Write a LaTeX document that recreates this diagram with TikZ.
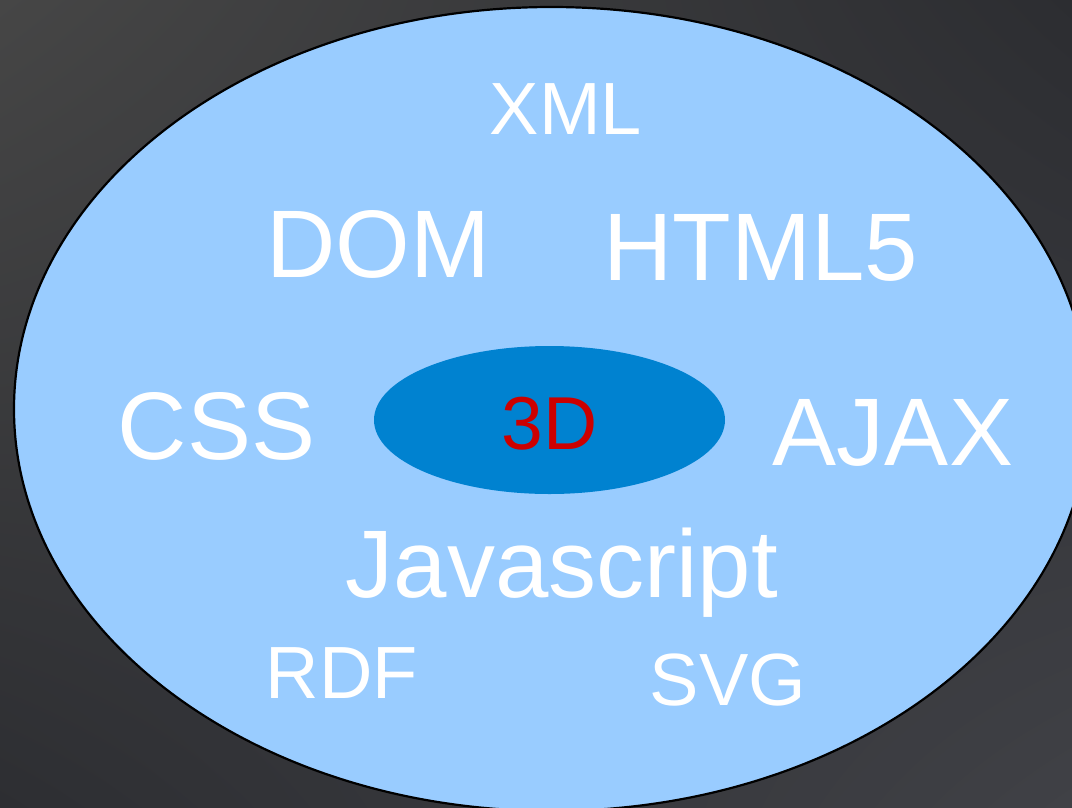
\documentclass[tikz,border=0pt]{standalone}
\usepackage{fontspec}
\setmainfont{Liberation Sans}
\usetikzlibrary{shapes.geometric,shadings}

\definecolor{bgUL}{HTML}{464646}
\definecolor{bgUR}{HTML}{2C2D31}
\definecolor{bgLL}{HTML}{2D2E32}
\definecolor{bgLR}{HTML}{404146}
\definecolor{outerblue}{HTML}{99CCFF}
\definecolor{innerblue}{HTML}{0082D0}
\definecolor{corered}{HTML}{CC0000}

\tikzset{
  outerset/.style={ellipse, draw=black, line width=2.2pt, fill=outerblue,
    minimum width=1075pt, minimum height=804pt, inner sep=0pt},
  coreset/.style={ellipse, fill=innerblue, minimum width=351pt,
    minimum height=148pt, inner sep=0pt},
  tech/.style={anchor=base, inner sep=0pt, text=white},
  bigtech/.style={tech, font=\fontsize{96}{96}\selectfont},
  smalltech/.style={tech, font=\fontsize{74}{74}\selectfont},
  coretext/.style={anchor=base, inner sep=0pt, text=corered,
    font=\fontsize{75}{75}\selectfont}
}

\begin{document}
\begin{tikzpicture}[x=1pt, y=-1pt]
  \useasboundingbox (0,0) rectangle (1072,807);
  \clip (0,0) rectangle (1072,807);

  % dark backdrop
  \shade[upper left=bgUL, upper right=bgUR, lower left=bgLL, lower right=bgLR]
    (0,0) rectangle (1072,807);

  % web technologies field
  \node[outerset] (web) at (551.5,409) {};

  % core
  \node[coreset] (core) at (549.5,420) {};
  \node[coretext] (threed) at (549.5,449) {3D};

  % surrounding technologies
  \node[smalltech] (xml)   at (566,134)   {XML};
  \node[bigtech]   (dom)   at (378.5,277) {DOM};
  \node[bigtech]   (html)  at (761,280)   {HTML5};
  \node[bigtech]   (css)   at (216.5,459) {CSS};
  \node[bigtech]   (ajax)  at (893,465)   {AJAX};
  \node[bigtech]   (js)    at (562,597)   {Javascript};
  \node[smalltech] (rdf)   at (342,698)   {RDF};
  \node[smalltech] (svg)   at (728,705)   {SVG};
\end{tikzpicture}
\end{document}
